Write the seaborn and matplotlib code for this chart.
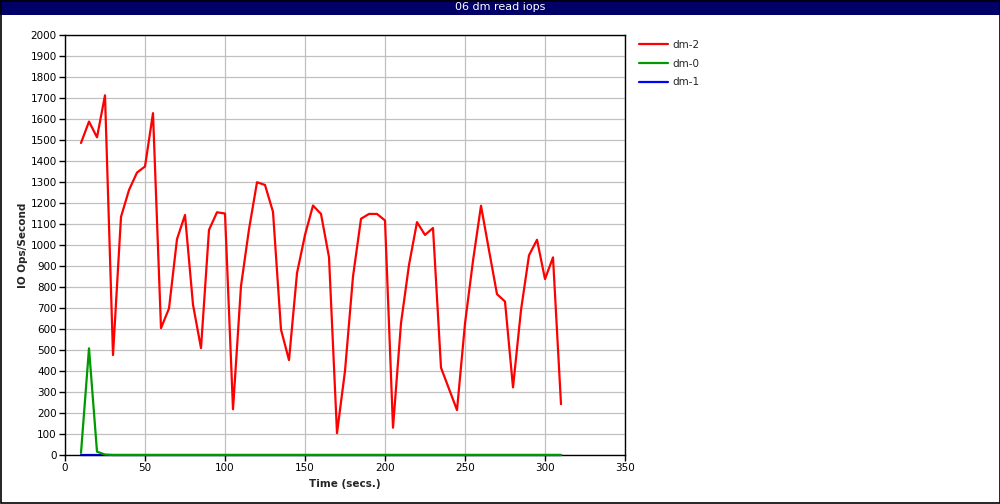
import numpy as np
import pandas as pd
import matplotlib
matplotlib.use("Agg")
import matplotlib.pyplot as plt
import seaborn as sns
from matplotlib.patches import Rectangle

# Data
time = list(range(10, 315, 5))
dm2 = [1486, 1588, 1513, 1713, 476, 1134, 1262, 1345, 1374, 1628,
       604, 698, 1028, 1143, 716, 509, 1072, 1156, 1150, 218,
       805, 1075, 1299, 1286, 1158, 597, 452, 866, 1048, 1188,
       1148, 942, 104, 400, 850, 1125, 1148, 1148, 1117, 130,
       628, 905, 1109, 1048, 1081, 416, 315, 214, 626, 925,
       1187, 975, 766, 731, 322, 690, 951, 1025, 838, 941, 242]
dm0 = [10, 508, 16, 2] + [0] * (len(time) - 4)
dm1 = [0] * len(time)

series_names = ["dm-2", "dm-0", "dm-1"]
series_colors = {"dm-2": "#ff0000", "dm-0": "#009900", "dm-1": "#0000ff"}

df = pd.DataFrame({
    "time": time * 3,
    "iops": dm2 + dm0 + dm1,
    "device": ["dm-2"] * len(time) + ["dm-0"] * len(time) + ["dm-1"] * len(time),
})

sns.set_style("white")
plt.rcParams["font.family"] = ["DejaVu Sans"]

fig = plt.figure(figsize=(10, 5.04), dpi=100)
ax = fig.add_axes([0.065, 0.0972, 0.56, 0.8333])

# draw blue first, then green, then red on top
for name, z in [("dm-1", 2), ("dm-0", 3), ("dm-2", 4)]:
    sns.lineplot(data=df[df["device"] == name], x="time", y="iops",
                 color=series_colors[name], linewidth=1.6, ax=ax,
                 label=name, zorder=z, clip_on=False)

ax.set_xlim(0, 350)
ax.set_ylim(0, 2000)
ax.set_xticks(np.arange(0, 351, 50))
ax.set_yticks(np.arange(0, 2001, 100))
ax.grid(True, color="#c0c0c0", linewidth=0.9)
ax.set_axisbelow(True)
for s in ax.spines.values():
    s.set_color("black")
    s.set_linewidth(1)
ax.tick_params(axis="both", direction="out", length=4, width=1,
               labelsize=7.5, colors="black", left=True, bottom=True, pad=2)

ax.set_xlabel("Time (secs.)", fontsize=7.5, fontweight="bold", labelpad=4)
ax.set_ylabel("IO Ops/Second", fontsize=7.5, fontweight="bold", labelpad=1.5)

handles, labels = ax.get_legend_handles_labels()
order = [labels.index(n) for n in series_names]
ax.legend([handles[i] for i in order], [labels[i] for i in order],
          loc="upper left", bbox_to_anchor=(1.016, 1.0), frameon=False,
          fontsize=7.5, handlelength=2.8, handletextpad=0.45,
          labelspacing=0.85, borderaxespad=0.05)

# title bar and outer border
fig.patches.append(Rectangle((0, 1 - 15 / 504), 1, 15 / 504, transform=fig.transFigure,
                             facecolor="#000066", edgecolor="none", zorder=0))
fig.text(0.5, 1 - 7.5 / 504, "06 dm read iops", color="white", fontsize=8,
         ha="center", va="center")
fig.patches.append(Rectangle((0.0005, 0.001), 0.999, 0.998, transform=fig.transFigure,
                             facecolor="none", edgecolor="black", linewidth=1.2, zorder=5))

fig.savefig("out.png", dpi=100)
